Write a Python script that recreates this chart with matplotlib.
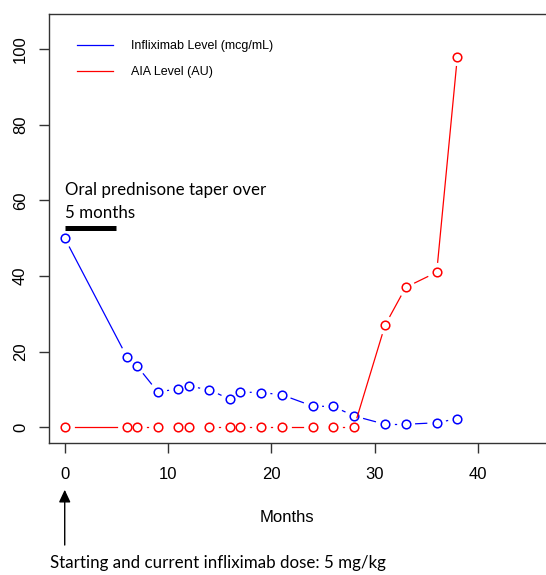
import numpy as np
import matplotlib.pyplot as plt

months = [0, 6, 7, 9, 11, 12, 14, 16, 17, 19, 21, 24, 26, 28, 31, 33, 36, 38]
ifx_level = [50, 18.7, 16.2, 9.4, 10.1, 10.9, 9.9, 7.4, 9.3, 9.2, 8.6, 5.6, 5.5, 3.0, 0.8, 0.8, 1.2, 2.3]
aia_level = [0, 0, 0, 0, 0, 0, 0, 0, 0, 0, 0, 0, 0, 0, 27, 37, 41, 98]
taper_months = [0, 5]
taper_y = 52.8

W, H = 546, 575
fig = plt.figure(figsize=(W / 100, H / 100), dpi=100)
ax = fig.add_axes([48.5 / W, (H - 443) / H, (570 - 48.5) / W, (443 - 13.5) / H])
ax.set_xlim(-1.57, 48.9)
ax.set_ylim(-4.15, 109.4)


def type_b(x, y, color, label, gap=10):
    # R style type="b": points joined by segments that stop short of each point
    ax.plot([], [], color=color, lw=0.9, label=label)
    pts = ax.transData.transform(np.column_stack([x, y]))
    inv = ax.transData.inverted()
    for p1, p2 in zip(pts[:-1], pts[1:]):
        d = np.hypot(*(p2 - p1))
        if d <= 2 * gap:
            continue
        u = (p2 - p1) / d
        a, b = inv.transform([p1 + gap * u, p2 - gap * u])
        ax.plot([a[0], b[0]], [a[1], b[1]], color=color, lw=0.9)
    ax.plot(x, y, 'o', ms=6.2, mfc='none', mec=color, mew=1.1)


type_b(months, ifx_level, '#0000ff', 'Infliximab Level (mcg/mL)')
type_b(months, aia_level, '#ff0000', 'AIA Level (AU)')

ax.plot(taper_months, [taper_y, taper_y], color='black', lw=3.6, solid_capstyle='butt')
ax.text(0, 61.4, 'Oral prednisone taper over', family='Lato', fontsize=12.2, va='baseline', ha='left')
ax.text(0, 55.4, '5 months', family='Lato', fontsize=12.2, va='baseline', ha='left')

leg = ax.legend(loc='upper left', frameon=False, fontsize=9, handlelength=2.9,
                handletextpad=1.45, labelspacing=1.15, borderaxespad=0,
                bbox_to_anchor=(23.5 / 521.5, (443 - 35) / 429.5))
for t in leg.get_texts():
    t.set_family('Liberation Sans')

ax.set_xticks([0, 10, 20, 30, 40])
ax.set_yticks([0, 20, 40, 60, 80, 100])
ax.tick_params(axis='x', length=7.2, width=1, pad=10, labelsize=12, color='#333333')
ax.tick_params(axis='y', length=7.2, width=1, pad=7.5, labelsize=12, color='#333333')
for lab in ax.get_yticklabels():
    lab.set_rotation(90)
    lab.set_va('center')
for lab in ax.get_xticklabels() + ax.get_yticklabels():
    lab.set_family('Liberation Sans')
for s in ax.spines.values():
    s.set_color('#333333')
    s.set_linewidth(1)

fig.text(287 / W, 1 - 517 / H, 'Months', family='Liberation Sans', fontsize=12, ha='center', va='center')

ax.annotate('', xy=(0, -0.1024), xytext=(0, -0.244),
            xycoords=ax.get_xaxis_transform(), textcoords=ax.get_xaxis_transform(),
            annotation_clip=False,
            arrowprops=dict(arrowstyle='-|>,head_length=0.75,head_width=0.35', color='black', lw=1))
fig.text(50 / W, 1 - 563 / H, 'Starting and current infliximab dose: 5 mg/kg',
         family='Lato', fontsize=12.2, ha='left', va='center')

fig.savefig('out.png', dpi=100)
